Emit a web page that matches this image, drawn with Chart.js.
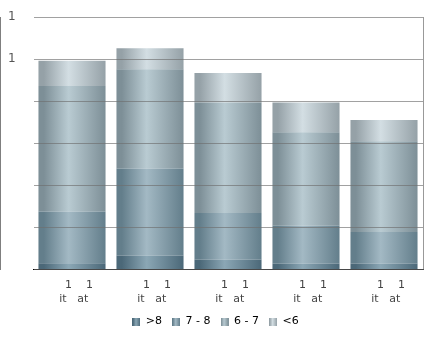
<!DOCTYPE html>
<html>
<head>
<meta charset="utf-8">
<script src="https://cdn.jsdelivr.net/npm/chart.js@4.4.1/dist/chart.umd.min.js"></script>
<style>
  html, body { margin: 0; padding: 0; background: #fff; }
  #wrap { width: 430px; height: 348px; }
</style>
</head>
<body>
<div id="wrap"><canvas id="chart"></canvas></div>
<script>
const categories = [
  ['    1    1', ' it   at'],
  ['    1    1', ' it   at'],
  ['    1    1', ' it   at'],
  ['    1    1', ' it   at'],
  ['    1    1', ' it   at']
];
const seriesNames = ['>8', '7 - 8', '6 - 7', '<6'];
const over8 = [0.15, 0.33, 0.24, 0.14, 0.14];
const from7to8 = [1.23, 2.07, 1.1, 0.9, 0.75];
const from6to7 = [2.98, 2.36, 2.63, 2.22, 2.16];
const under6 = [0.6, 0.5, 0.7, 0.71, 0.5];
const yTickLabels = { 5: '1', 6: '1' };

// edge colour, light centre colour
const shades = [
  ['#4b6878', '#8ba7b5'],
  ['#637e8b', '#a3b9c4'],
  ['#7d8f97', '#b9cbd2'],
  ['#95a1a7', '#d3dee3']
];

function fillGradient(ctx, left, w, i) {
  const g = ctx.createLinearGradient(left, 0, left + w, 0);
  g.addColorStop(0, shades[i][0]);
  g.addColorStop(0.08, shades[i][0]);
  g.addColorStop(0.45, shades[i][1]);
  g.addColorStop(1, shades[i][0]);
  return g;
}

// little gradient squares for the legend
const legendIcons = shades.map((s, i) => {
  const c = document.createElement('canvas');
  c.width = 8;
  c.height = 8;
  const cx = c.getContext('2d');
  cx.fillStyle = fillGradient(cx, 0, 8, i);
  cx.fillRect(0, 0, 8, 8);
  return c;
});

// each bar gets its own horizontal gradient (options are per element because colour is scriptable)
const barGradient = {
  id: 'barGradient',
  beforeDatasetsDraw(chart) {
    const ctx = chart.ctx;
    chart.data.datasets.forEach((ds, i) => {
      const meta = chart.getDatasetMeta(i);
      meta.data.forEach(bar => {
        const { x, width } = bar.getProps(['x', 'width'], true);
        bar.options.backgroundColor = fillGradient(ctx, x - width / 2, width, i);
      });
    });
  }
};

const rightBorder = {
  id: 'rightBorder',
  afterDraw(chart) {
    const { ctx, chartArea } = chart;
    ctx.save();
    ctx.strokeStyle = '#999';
    ctx.lineWidth = 1;
    ctx.beginPath();
    ctx.moveTo(chartArea.right + 0.5, chartArea.top);
    ctx.lineTo(chartArea.right + 0.5, chartArea.bottom);
    ctx.stroke();
    ctx.restore();
  }
};

const allSeries = [over8, from7to8, from6to7, under6];

new Chart(document.getElementById('chart'), {
  type: 'bar',
  data: {
    labels: categories,
    datasets: allSeries.map((values, i) => ({
      label: seriesNames[i],
      data: values,
      backgroundColor: () => shades[i][0],
      borderWidth: 0,
      barPercentage: 0.86,
      categoryPercentage: 1
    }))
  },
  options: {
    responsive: true,
    maintainAspectRatio: false,
    animation: false,
    layout: { padding: { top: 17, right: 7, bottom: 11, left: 8 } },
    plugins: {
      legend: {
        position: 'bottom',
        labels: {
          usePointStyle: true,
          boxWidth: 8,
          boxHeight: 8,
          padding: 10,
          color: '#444',
          font: { family: 'DejaVu Sans', size: 11 },
          generateLabels(chart) {
            return chart.data.datasets.map((ds, i) => ({
              text: ds.label,
              pointStyle: legendIcons[i],
              fillStyle: shades[i][0],
              strokeStyle: shades[i][0],
              lineWidth: 0,
              datasetIndex: i
            }));
          }
        }
      },
      tooltip: { enabled: false }
    },
    scales: {
      x: {
        stacked: true,
        afterFit(scale) { scale.height -= 9; },
        grid: { display: false, drawTicks: false },
        border: { color: '#000', width: 1 },
        ticks: { color: '#444', padding: 9, font: { family: 'DejaVu Sans', size: 11, lineHeight: 1.25 } }
      },
      y: {
        stacked: true,
        min: 0,
        max: 6,
        afterFit(scale) { scale.width = 25; },
        grid: { color: 'rgba(110,110,110,0.65)', drawTicks: false, z: 1 },
        border: { color: '#000', width: 1 },
        ticks: {
          stepSize: 1,
          padding: 0,
          crossAlign: 'far',
          color: '#555',
          font: { family: 'DejaVu Sans', size: 12 },
          callback: v => yTickLabels[v] || ''
        }
      }
    }
  },
  plugins: [barGradient, rightBorder]
});
</script>
</body>
</html>
